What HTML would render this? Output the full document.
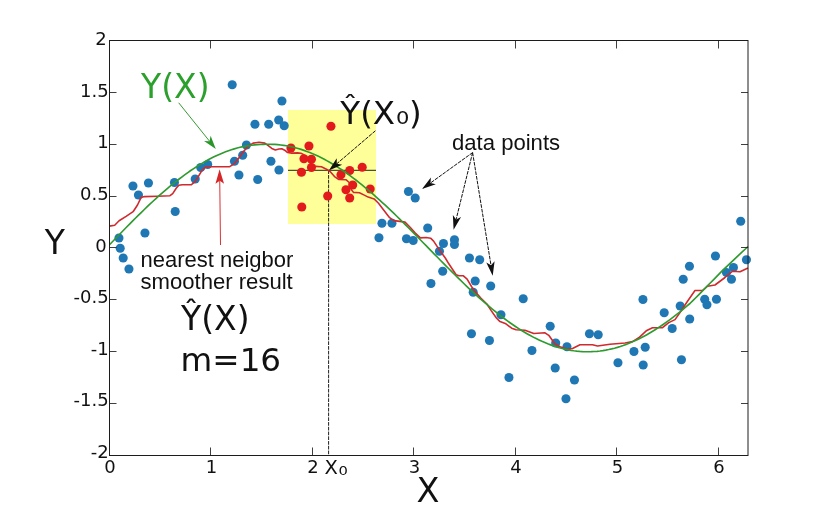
<!DOCTYPE html>
<html lang="en"><head><meta charset="utf-8"><title>Nearest neighbor smoother</title>
<style>html,body{margin:0;padding:0;background:#fff}svg{display:block}.dv{font-family:"DejaVu Sans","Liberation Sans",sans-serif}.lb{font-family:"Liberation Sans",sans-serif}.tk{font-size:18px;fill:#111}</style></head><body>
<svg width="827" height="512" viewBox="0 0 827 512">
<rect width="827" height="512" fill="#fff"/>
<rect x="288" y="110" width="88" height="114" fill="#ffff99"/>
<line x1="288" y1="170.3" x2="376" y2="170.3" stroke="#222" stroke-width="1"/>
<line x1="328.6" y1="170.3" x2="328.6" y2="455.5" stroke="#222" stroke-width="1" stroke-dasharray="3.7 1.05"/>
<g fill="#1f77b4"><circle cx="232.2" cy="84.7" r="4.55"/><circle cx="281.95" cy="100.95" r="4.55"/><circle cx="254.95" cy="124.2" r="4.55"/><circle cx="268.7" cy="124.2" r="4.55"/><circle cx="278.7" cy="119.95" r="4.55"/><circle cx="284.2" cy="125.7" r="4.55"/><circle cx="246.45" cy="144.95" r="4.55"/><circle cx="242.7" cy="155.2" r="4.55"/><circle cx="234.45" cy="161.2" r="4.55"/><circle cx="207.7" cy="164.45" r="4.55"/><circle cx="200.7" cy="167.45" r="4.55"/><circle cx="270.95" cy="161.2" r="4.55"/><circle cx="278.95" cy="169.95" r="4.55"/><circle cx="238.95" cy="174.95" r="4.55"/><circle cx="257.7" cy="179.45" r="4.55"/><circle cx="195.2" cy="178.95" r="4.55"/><circle cx="174.45" cy="182.45" r="4.55"/><circle cx="148.45" cy="182.95" r="4.55"/><circle cx="132.95" cy="185.95" r="4.55"/><circle cx="138.45" cy="194.95" r="4.55"/><circle cx="175.2" cy="211.45" r="4.55"/><circle cx="144.95" cy="232.95" r="4.55"/><circle cx="118.95" cy="237.95" r="4.55"/><circle cx="120.2" cy="248.2" r="4.55"/><circle cx="123.2" cy="257.95" r="4.55"/><circle cx="128.95" cy="268.95" r="4.55"/><circle cx="408.45" cy="191.45" r="4.55"/><circle cx="415.2" cy="197.95" r="4.55"/><circle cx="381.95" cy="223.2" r="4.55"/><circle cx="391.95" cy="223.2" r="4.55"/><circle cx="378.95" cy="237.7" r="4.55"/><circle cx="427.7" cy="227.95" r="4.55"/><circle cx="406.45" cy="238.7" r="4.55"/><circle cx="413.2" cy="240.45" r="4.55"/><circle cx="443.45" cy="243.45" r="4.55"/><circle cx="454.45" cy="239.7" r="4.55"/><circle cx="454.45" cy="244.45" r="4.55"/><circle cx="439.45" cy="251.2" r="4.55"/><circle cx="469.45" cy="257.95" r="4.55"/><circle cx="479.7" cy="259.7" r="4.55"/><circle cx="442.7" cy="271.2" r="4.55"/><circle cx="430.95" cy="283.45" r="4.55"/><circle cx="475.2" cy="280.95" r="4.55"/><circle cx="490.7" cy="285.95" r="4.55"/><circle cx="473.2" cy="292.2" r="4.55"/><circle cx="523.2" cy="298.7" r="4.55"/><circle cx="500.95" cy="314.7" r="4.55"/><circle cx="550.2" cy="326.2" r="4.55"/><circle cx="471.45" cy="333.7" r="4.55"/><circle cx="489.45" cy="340.45" r="4.55"/><circle cx="531.95" cy="350.45" r="4.55"/><circle cx="555.7" cy="342.95" r="4.55"/><circle cx="566.95" cy="346.7" r="4.55"/><circle cx="589.45" cy="333.7" r="4.55"/><circle cx="598.2" cy="334.7" r="4.55"/><circle cx="555.2" cy="367.95" r="4.55"/><circle cx="508.95" cy="377.45" r="4.55"/><circle cx="574.45" cy="379.95" r="4.55"/><circle cx="565.95" cy="398.7" r="4.55"/><circle cx="617.95" cy="362.7" r="4.55"/><circle cx="633.95" cy="351.45" r="4.55"/><circle cx="645.2" cy="347.2" r="4.55"/><circle cx="643.2" cy="364.95" r="4.55"/><circle cx="642.95" cy="299.45" r="4.55"/><circle cx="664.2" cy="312.7" r="4.55"/><circle cx="672.2" cy="328.45" r="4.55"/><circle cx="681.45" cy="359.7" r="4.55"/><circle cx="740.7" cy="221.2" r="4.55"/><circle cx="746.45" cy="259.7" r="4.55"/><circle cx="715.45" cy="255.95" r="4.55"/><circle cx="689.45" cy="266.2" r="4.55"/><circle cx="733.45" cy="267.45" r="4.55"/><circle cx="726.45" cy="272.45" r="4.55"/><circle cx="683.2" cy="279.2" r="4.55"/><circle cx="731.45" cy="279.2" r="4.55"/><circle cx="704.7" cy="299.2" r="4.55"/><circle cx="716.45" cy="299.2" r="4.55"/><circle cx="706.95" cy="304.7" r="4.55"/><circle cx="680.2" cy="305.95" r="4.55"/><circle cx="689.7" cy="318.95" r="4.55"/></g>
<polyline points="109.4,226.1 114.7,225.2 119.1,220.8 126.1,216.4 133.1,211.7 137.5,205 141,197.6 144.5,196.6 157.7,196.2 170,195.7 172.7,193.6 176.2,188.3 178.8,185.3 182.3,184.8 191.1,184.8 194.6,182.2 198.1,176.9 201.7,170.8 205.2,167.4 209,166.8 229.7,166.6 234.4,163.6 239,157.8 243.7,151.3 248.4,146.1 253.1,143.1 259,142.3 264.8,143.1 268.9,146.1 271.8,148.4 275.4,149.9 278.9,149 281.8,148.8 284.7,150.2 287.6,152.5 291.7,153.1 297.6,152.9 300.9,153.2 303.8,154.6 308,160.5 312,164.8 315.5,166.4 321.4,166.8 326.5,169.3 330.1,171.5 334.5,176.6 338.9,179.5 346.2,179.8 349.2,182.5 351.4,189.8 353.6,192.4 359.4,192.7 363.8,194.9 368.2,197.1 374.1,198.9 378.5,203.3 382.3,208.2 389.6,217.7 394,220.6 399.9,221.4 405,222.1 410.1,227.2 415.3,233.1 420.4,237.9 426.2,237.5 430.6,238.2 433.6,241.1 439.4,249.9 445.3,258 448.8,263.8 456.1,274.8 459,275.8 463.4,275.8 467.1,279.2 471.5,286.5 475.1,291.6 481,298.2 486.9,304 491.2,310.6 496.4,318 500,321.6 505.9,323.8 511.7,328.2 516.1,329.8 525,330.3 533.75,333.5 545,332.8 548.75,335.3 555,344 560,346.7 567.5,349.2 572.5,348.5 580,344.8 592.5,344.8 597.5,346 610,344.2 625,343 632.5,341.6 638.75,337.8 646.25,330.8 652.5,327.7 662.5,327.7 668.75,322.6 675,319.6 680,312.6 687.5,301.25 695,290.5 702.5,290.5 707.5,286.25 715,285 725,277.5 732.5,271.25 740,271.75 748,268" fill="none" stroke="#cf2a2e" stroke-width="1.6" stroke-linejoin="round"/>
<g fill="#e31a1c"><circle cx="330.95" cy="126.2" r="4.55"/><circle cx="290.95" cy="147.95" r="4.55"/><circle cx="308.95" cy="145.95" r="4.55"/><circle cx="303.95" cy="158.7" r="4.55"/><circle cx="311.45" cy="159.2" r="4.55"/><circle cx="311.45" cy="167.45" r="4.55"/><circle cx="301.45" cy="172.2" r="4.55"/><circle cx="340.95" cy="174.7" r="4.55"/><circle cx="349.7" cy="170.45" r="4.55"/><circle cx="362.2" cy="167.2" r="4.55"/><circle cx="352.7" cy="184.95" r="4.55"/><circle cx="345.95" cy="189.7" r="4.55"/><circle cx="349.7" cy="197.95" r="4.55"/><circle cx="370.2" cy="188.95" r="4.55"/><circle cx="327.7" cy="195.95" r="4.55"/><circle cx="301.8" cy="206.95" r="4.55"/></g>
<polyline points="109.5,244.73 112.4,241.72 115.3,238.71 118.21,235.71 121.11,232.72 124.01,229.75 126.91,226.79 129.82,223.84 132.72,220.92 135.62,218.02 138.52,215.15 141.43,212.3 144.33,209.49 147.23,206.7 150.13,203.95 153.03,201.24 155.94,198.57 158.84,195.95 161.74,193.38 164.64,190.86 167.55,188.39 170.45,185.96 173.35,183.59 176.25,181.27 179.15,179.01 182.06,176.8 184.96,174.65 187.86,172.57 190.76,170.55 193.67,168.59 196.57,166.69 199.47,164.87 202.37,163.11 205.28,161.43 208.18,159.82 211.08,158.28 213.98,156.81 216.88,155.44 219.79,154.16 222.69,152.96 225.59,151.82 228.49,150.77 231.4,149.79 234.3,148.89 237.2,148.06 240.1,147.32 243,146.66 245.91,146.09 248.81,145.63 251.71,145.24 254.61,144.91 257.52,144.65 260.42,144.45 263.32,144.32 266.22,144.26 269.12,144.26 272.03,144.31 274.93,144.43 277.83,144.65 280.73,144.95 283.64,145.34 286.54,145.81 289.44,146.36 292.34,147 295.25,147.72 298.15,148.52 301.05,149.4 303.95,150.36 306.85,151.41 309.76,152.53 312.66,153.73 315.56,155.01 318.46,156.36 321.37,157.79 324.27,159.29 327.17,160.86 330.07,162.51 332.98,164.22 335.88,166.01 338.78,167.86 341.68,169.78 344.58,171.76 347.49,173.8 350.39,175.9 353.29,178.06 356.19,180.28 359.1,182.56 362,184.89 364.9,187.27 367.8,189.7 370.7,192.17 373.61,194.7 376.51,197.26 379.41,199.87 382.31,202.52 385.22,205.2 388.12,207.92 391.02,210.68 393.92,213.46 396.82,216.27 399.73,219.11 402.63,221.97 405.53,224.85 408.43,227.75 411.34,230.67 414.24,233.6 417.14,236.54 420.04,239.5 422.95,242.46 425.85,245.42 428.75,248.39 431.65,251.35 434.55,254.32 437.46,257.27 440.36,260.22 443.26,263.17 446.16,266.09 449.07,269.01 451.97,271.9 454.87,274.78 457.77,277.63 460.68,280.46 463.58,283.27 466.48,286.04 469.38,288.79 472.28,291.5 475.19,294.17 478.09,296.81 480.99,299.41 483.89,301.96 486.8,304.48 489.7,306.94 492.6,309.36 495.5,311.72 498.4,314.04 501.31,316.3 504.21,318.5 507.11,320.65 510.01,322.74 512.92,324.77 515.82,326.73 518.72,328.63 521.62,330.46 524.52,332.23 527.43,333.93 530.33,335.55 533.23,337.11 536.13,338.59 539.04,340 541.94,341.34 544.84,342.59 547.74,343.77 550.65,344.87 553.55,345.9 556.45,346.84 559.35,347.7 562.25,348.48 565.16,349.18 568.06,349.79 570.96,350.32 573.86,350.77 576.77,351.14 579.67,351.42 582.57,351.61 585.47,351.72 588.38,351.75 591.28,351.69 594.18,351.55 597.08,351.32 599.98,351 602.89,350.61 605.79,350.13 608.69,349.56 611.59,348.91 614.5,348.18 617.4,347.37 620.3,346.48 623.2,345.51 626.1,344.45 629.01,343.32 631.91,342.11 634.81,340.82 637.71,339.46 640.62,338.02 643.52,336.51 646.42,334.93 649.32,333.27 652.23,331.55 655.13,329.75 658.03,327.89 660.93,325.97 663.83,323.98 666.74,321.93 669.64,319.82 672.54,317.65 675.44,315.42 678.35,313.14 681.25,310.8 684.15,308.42 687.05,305.98 689.95,303.5 692.86,300.67 695.76,297.78 698.66,294.84 701.56,291.85 704.47,288.82 707.37,285.91 710.27,283.01 713.17,280.08 716.08,277.12 718.98,274.13 721.88,271.12 724.78,268.29 727.68,265.56 730.59,262.82 733.49,260.07 736.39,257.31 739.29,254.54 742.2,251.88 745.1,249.25 748,246.61" fill="none" stroke="#2f9a2f" stroke-width="1.65" stroke-linejoin="round"/>
<rect x="109.5" y="40.5" width="638.5" height="415.0" fill="none" stroke="#1c1c1c" stroke-width="1"/>
<path d="M109.5 455.5v-8M109.5 40.5v8M210.5 455.5v-8M210.5 40.5v8M312.5 455.5v-8M312.5 40.5v8M413.5 455.5v-8M413.5 40.5v8M515.5 455.5v-8M515.5 40.5v8M616.5 455.5v-8M616.5 40.5v8M718.5 455.5v-8M718.5 40.5v8M109.5 40.5h7M748.0 40.5h-7M109.5 92.5h7M748.0 92.5h-7M109.5 144.5h7M748.0 144.5h-7M109.5 196.5h7M748.0 196.5h-7M109.5 247.5h7M748.0 247.5h-7M109.5 299.5h7M748.0 299.5h-7M109.5 351.5h7M748.0 351.5h-7M109.5 403.5h7M748.0 403.5h-7M109.5 455.5h7M748.0 455.5h-7" stroke="#1c1c1c" stroke-width="0.85" fill="none"/>
<g class="dv tk" text-anchor="end">
<text x="106.8" y="45.1">2</text>
<text x="108.7" y="96.72">1.5</text>
<text x="108.7" y="148.35">1</text>
<text x="108.7" y="199.97">0.5</text>
<text x="106.8" y="251.6">0</text>
<text x="108.7" y="303.23">-0.5</text>
<text x="108.7" y="354.85">-1</text>
<text x="108.7" y="406.48">-1.5</text>
<text x="108.7" y="458.1">-2</text>
</g>
<g class="dv tk" text-anchor="middle">
<text x="110" y="473.2">0</text>
<text x="211.5" y="473.2">1</text>
<text x="313" y="473.2">2</text>
<text x="414.5" y="473.2">3</text>
<text x="516" y="473.2">4</text>
<text x="617.5" y="473.2">5</text>
<text x="719" y="473.2">6</text>
</g>
<text class="dv" x="44.8" y="253.9" font-size="33" fill="#111">Y</text>
<text class="dv" x="428.1" y="502.3" font-size="33.5" fill="#111" text-anchor="middle">X</text>
<text class="dv" x="324.6" y="473.8" font-size="19.5" fill="#111">X</text>
<text class="dv" transform="translate(338.6 474.9) scale(1.2 1)" font-size="12.3" fill="#111">0</text>
<text class="dv" x="141" y="98.4" font-size="33" fill="#2ca02c">Y(X)</text>
<text class="dv" x="340.3" y="123.5" font-size="32.5" fill="#111">Ŷ(X</text>
<text class="dv" transform="translate(395.9 123.5) scale(1.17 1)" font-size="18" fill="#111">0</text>
<text class="dv" x="408.9" y="123.5" font-size="32.5" fill="#111">)</text>
<text class="dv" x="181" y="330.2" font-size="33" fill="#111">Ŷ(X)</text>
<text class="dv" x="180.6" y="371.3" font-size="32.6" fill="#111">m=16</text>
<text class="lb" x="140.5" y="267.2" font-size="22" fill="#111">nearest neigbor</text>
<text class="lb" x="140.5" y="288.9" font-size="22.1" fill="#111">smoother result</text>
<text class="lb" x="452" y="149.6" font-size="22.1" fill="#111">data points</text>
<line x1="178.7" y1="102.8" x2="209.54" y2="141.2" stroke="#2a962a" stroke-width="0.95"/>
<polygon points="215.8,149 204.07,141.1 209.54,141.2 210.62,135.84" fill="#2a962a"/>
<line x1="220.5" y1="245" x2="219.74" y2="180.7" stroke="#d62728" stroke-width="0.95"/>
<polygon points="219.6,169.2 224.07,183.65 219.74,180.7 215.47,183.75" fill="#d62728"/>
<line x1="472.6" y1="152.6" x2="430.52" y2="182.96" stroke="#111" stroke-width="1" stroke-dasharray="3.7 1.05"/>
<polygon points="422,189.1 430.9,177.5 430.52,182.96 435.81,184.32" fill="#111"/>
<line x1="472.6" y1="152.6" x2="456.11" y2="219.51" stroke="#111" stroke-width="1" stroke-dasharray="3.7 1.05"/>
<polygon points="453.6,229.7 452.87,215.1 456.11,219.51 461.03,217.11" fill="#111"/>
<line x1="472.6" y1="152.6" x2="491.01" y2="265.34" stroke="#111" stroke-width="1" stroke-dasharray="3.7 1.05"/>
<polygon points="492.7,275.7 486.3,262.56 491.01,265.34 494.59,261.21" fill="#111"/>
<line x1="375.4" y1="130.8" x2="336.78" y2="163.78" stroke="#111" stroke-width="1" stroke-dasharray="3.7 1.05"/>
<polygon points="328.8,170.6 336.72,158.31 336.78,163.78 342.17,164.7" fill="#111"/>
</svg></body></html>
